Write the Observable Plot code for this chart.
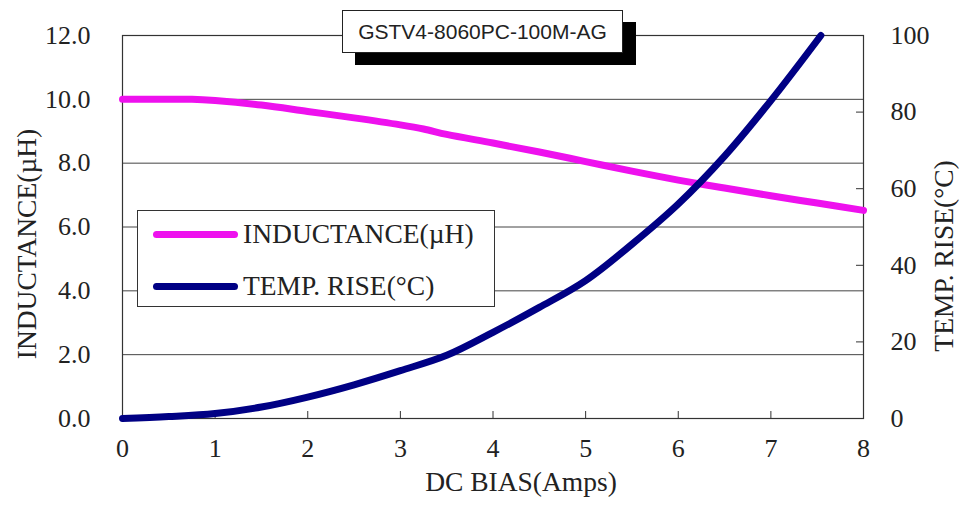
<!DOCTYPE html>
<html>
<head>
<meta charset="utf-8">
<script src="https://cdn.jsdelivr.net/npm/d3@7"></script>
<script src="https://cdn.jsdelivr.net/npm/@observablehq/plot@0.6"></script>
<style>
  html, body { margin: 0; padding: 0; background: #fff; }
  #wrap { position: relative; width: 963px; height: 505px; overflow: hidden; }
  #wrap svg { position: absolute; left: 0; top: 0; }
  .title {
    position: absolute; left: 342px; top: 10px; width: 279px; height: 41px;
    background: #fff; border: 1px solid #222; box-shadow: 13px 12px 0 #000;
    font-family: "Liberation Sans", Arial, sans-serif; font-size: 21px; color: #222;
    display: flex; align-items: center; justify-content: center; z-index: 2;
  }
  .legend {
    position: absolute; left: 137px; top: 210px; width: 356px; height: 95px;
    background: #fff; border: 1px solid #333; z-index: 2;
    font-family: "Liberation Serif", "Times New Roman", serif; font-size: 27.5px; color: #222;
  }
  .legend .row { position: absolute; left: 0; height: 30px; display: flex; align-items: center; }
  .legend .sw { width: 85px; height: 7px; border-radius: 4px; margin-left: 15px; margin-right: 5px; }
</style>
</head>
<body>
<div id="wrap"></div>
<script>
// ---- data ----
const biasInd = [0, 0.5, 0.75, 1, 1.5, 2, 2.5, 3, 3.25, 3.5, 4, 4.5, 5, 5.5, 6, 6.5, 7, 7.5, 8];
const inductance = [10.0, 10.0, 10.0, 9.96, 9.82, 9.62, 9.42, 9.2, 9.07, 8.9, 8.63, 8.35, 8.05, 7.75, 7.47, 7.22, 6.98, 6.75, 6.52];
const biasTemp = [0, 0.5, 1, 1.5, 2, 2.5, 3, 3.5, 4, 4.5, 5, 5.5, 6, 6.5, 7, 7.54];
const tempRise = [0, 0.5, 1.3, 3.0, 5.6, 8.8, 12.5, 16.5, 22.5, 29.0, 36.0, 45.5, 56, 68.5, 83, 100];
const xTicks = [0, 1, 2, 3, 4, 5, 6, 7, 8];
const leftTicks = [0, 2, 4, 6, 8, 10, 12];
const rightTicks = [0, 20, 40, 60, 80, 100];
const titleText = "GSTV4-8060PC-100M-AG";
const xLabel = "DC BIAS(Amps)";
const yLabelLeft = "INDUCTANCE(\u00B5H)";
const yLabelRight = "TEMP. RISE(\u00B0C)";
const seriesNames = ["INDUCTANCE(\u00B5H)", "TEMP. RISE(\u00B0C)"];
const seriesColors = ["#ee11ee", "#000084"];

// ---- build ----
const LMAX = 12, TMAX = 100;
const toLeft = t => t * LMAX / TMAX;
const indData = biasInd.map((x, i) => ({x, y: inductance[i]}));
const tempData = biasTemp.map((x, i) => ({x, y: toLeft(tempRise[i])}));

const W = 963, H = 505, mL = 122, mR = 100, mT = 35, mB = 87;
const innerW = W - mL - mR, innerH = H - mT - mB;
const serif = "'Liberation Serif', 'Times New Roman', serif";

const chart = Plot.plot({
  width: W, height: H,
  marginLeft: mL, marginRight: mR, marginTop: mT, marginBottom: mB,
  style: {fontFamily: serif, fontSize: "26px", color: "#222", background: "transparent"},
  x: {domain: [0, 8]},
  y: {domain: [0, LMAX]},
  marks: [
    Plot.gridY(leftTicks, {stroke: "#444", strokeOpacity: 1, strokeWidth: 1}),
    Plot.frame({stroke: "#333", strokeWidth: 1.2}),
    Plot.tickX(xTicks.slice(1, -1), {x: d => d, insetTop: innerH - 7, stroke: "#333"}),
    Plot.tickY(rightTicks.slice(1, -1), {y: d => toLeft(d), insetLeft: innerW - 7, stroke: "#333"}),
    Plot.axisX(xTicks, {tickSize: 0, tickPadding: 20, tickFormat: d => String(d), fill: "#222", label: null}),
    Plot.axisY(leftTicks, {anchor: "left", tickSize: 0, tickPadding: 32, tickFormat: d => d.toFixed(1), fill: "#222", label: null}),
    Plot.axisY(rightTicks.map(toLeft), {anchor: "right", tickSize: 0, tickPadding: 27, tickFormat: d => String(Math.round(d * TMAX / LMAX)), fill: "#222", label: null}),
    Plot.line(indData, {x: "x", y: "y", stroke: seriesColors[0], strokeWidth: 7, curve: "catmull-rom"}),
    Plot.line(tempData, {x: "x", y: "y", stroke: seriesColors[1], strokeWidth: 7, curve: "catmull-rom"}),
    Plot.text([xLabel], {text: d => d, frameAnchor: "bottom", textAnchor: "middle", dx: 28, dy: 72, fontSize: 27.5, fill: "#222"}),
    Plot.text([yLabelLeft], {text: d => d, frameAnchor: "left", textAnchor: "middle", lineAnchor: "middle", rotate: -90, dx: -95, dy: 17, fontSize: 27.5, fill: "#222"}),
    Plot.text([yLabelRight], {text: d => d, frameAnchor: "right", textAnchor: "middle", lineAnchor: "middle", rotate: -90, dx: 81, dy: 29, fontSize: 27.5, fill: "#222"})
  ]
});

const wrap = document.getElementById("wrap");
wrap.appendChild(chart);

const title = document.createElement("div");
title.className = "title";
title.textContent = titleText;
wrap.appendChild(title);

const legend = document.createElement("div");
legend.className = "legend";
seriesNames.forEach((name, i) => {
  const row = document.createElement("div");
  row.className = "row";
  row.style.top = (i === 0 ? 8 : 60) + "px";
  const sw = document.createElement("div");
  sw.className = "sw";
  sw.style.background = seriesColors[i];
  const tx = document.createElement("span");
  tx.textContent = name;
  row.appendChild(sw);
  row.appendChild(tx);
  legend.appendChild(row);
});
wrap.appendChild(legend);
</script>
</body>
</html>
